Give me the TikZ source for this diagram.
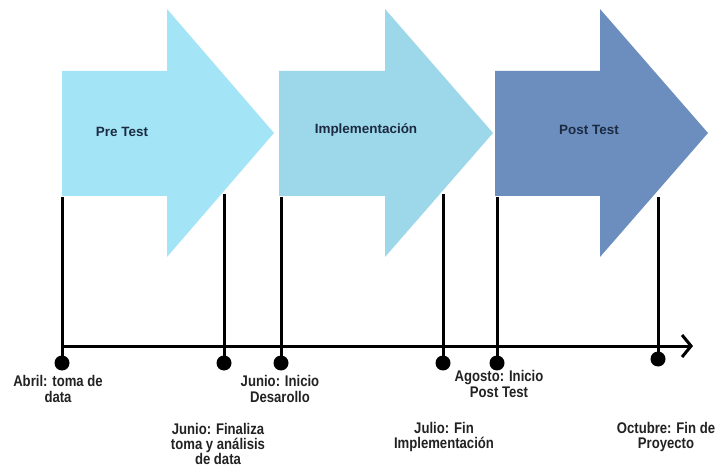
\documentclass[tikz,border=0pt]{standalone}
\usepackage{fontspec}
\usetikzlibrary{arrows.meta}
\newfontfamily\phasefont{Liberation Sans}
\newfontfamily\datefont{Liberation Sans}[FakeStretch=0.85]
\definecolor{phaseA}{HTML}{A3E5F7}
\definecolor{phaseB}{HTML}{9DD7EA}
\definecolor{phaseC}{HTML}{6B8EBF}
\definecolor{phaseText}{HTML}{1B2A41}
\definecolor{dateText}{HTML}{222222}
\tikzset{
  phaselabel/.style={font=\phasefont\bfseries\fontsize{13.5}{15}\selectfont, text=phaseText},
  datelabel/.style={font=\datefont\bfseries\fontsize{15.5}{15.5}\selectfont, text=dateText, align=center, inner sep=0pt},
  tick/.style={line width=3bp, black},
  dot/.style={circle, fill=black, inner sep=0pt, minimum size=15bp},
  axis/.style={line width=3bp, black, -{Straight Barb[length=9bp, width=22bp, line width=3bp]}}
}
\begin{document}
\begin{tikzpicture}[x=1bp, y=-1bp]
\useasboundingbox[fill=white] (0,0) rectangle (718,472);

% phase arrows
\fill[phaseA] (62,71) -- (167,71) -- (167,9) -- (274,133) -- (167,257) -- (167,196) -- (62,196) -- cycle;
\fill[phaseB] (279,71) -- (385,71) -- (385,9) -- (493,133) -- (385,257) -- (385,196) -- (279,196) -- cycle;
\fill[phaseC] (495,71) -- (600,71) -- (600,9) -- (708,133) -- (600,257) -- (600,196) -- (495,196) -- cycle;

\node[phaselabel] (pre) at (122,132) {Pre Test};
\node[phaselabel] (impl) at (366,130) {Implementación};
\node[phaselabel] (post) at (589,130) {Post Test};

% time axis
\coordinate (axstart) at (62,346);
\coordinate (axend) at (693,346);
\draw[axis] (axstart) -- (axend);

% milestones
\node[dot] (d1) at (62,363) {};
\node[dot] (d2) at (224,363) {};
\node[dot] (d3) at (281,363) {};
\node[dot] (d4) at (443,363) {};
\node[dot] (d5) at (497,363) {};
\node[dot] (d6) at (658,359) {};

\coordinate (t1) at (62,197);
\coordinate (t2) at (224,194);
\coordinate (t3) at (281,197);
\coordinate (t4) at (443,194);
\coordinate (t5) at (497,197);
\coordinate (t6) at (658,197);

\foreach \i in {1,...,6} \draw[tick] (t\i) -- (d\i.center);

% milestone labels
\node[datelabel] (l1) at (58,389) {Abril: toma de\\data};
\node[datelabel] (l2) at (218,444) {Junio: Finaliza\\toma y análisis\\de data};
\node[datelabel] (l3) at (280,389) {Junio: Inicio\\Desarollo};
\node[datelabel] (l4) at (444,437) {Julio: Fin\\Implementación};
\node[datelabel] (l5) at (499,384) {Agosto: Inicio\\Post Test};
\node[datelabel] (l6) at (666,437) {Octubre: Fin de\\Proyecto};
\end{tikzpicture}
\end{document}
